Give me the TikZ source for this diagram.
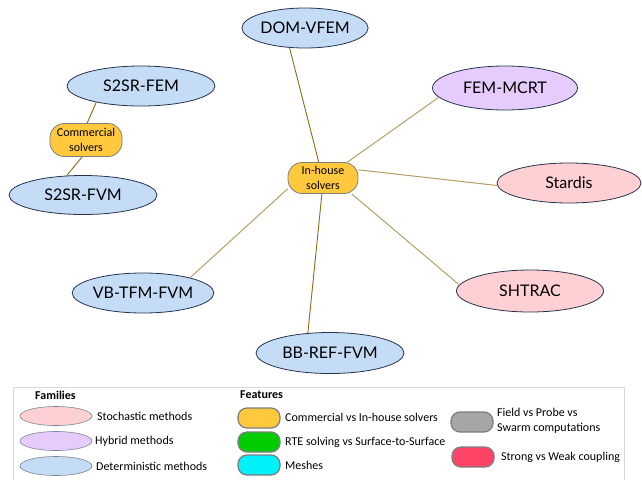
\documentclass[tikz,border=0pt]{standalone}
\usepackage{fontspec}
\setmainfont{Carlito}
\newfontfamily\bigf{Lato}
\usetikzlibrary{shapes.geometric}
\definecolor{bluef}{HTML}{C5DCF7}
\definecolor{pinkf}{HTML}{FFD0D3}
\definecolor{purpf}{HTML}{E6CCFC}
\definecolor{orangef}{HTML}{FFC83D}
\definecolor{edgeD}{HTML}{8C6A1A}
\definecolor{edgeL}{HTML}{B59F66}
\definecolor{bord}{HTML}{27344D}
\definecolor{featb}{HTML}{7F7F7F}
\definecolor{legb}{HTML}{D9D9D9}
\definecolor{greenf}{HTML}{00CC00}
\definecolor{cyanf}{HTML}{00F0F8}
\definecolor{grayf}{HTML}{A6A6A6}
\definecolor{redf}{HTML}{FF4468}
\begin{document}
\begin{tikzpicture}[x=1pt,y=-1pt,
  meth/.style={ellipse, draw=bord, line width=0.8pt, inner sep=0pt, font=\bigf\fontsize{16}{19}\selectfont},
  detm/.style={meth, fill=bluef},
  stoch/.style={meth, fill=pinkf},
  hybr/.style={meth, fill=purpf},
  solver/.style={rectangle, rounded corners=14pt, draw=featb, line width=0.8pt, fill=orangef, align=center, inner sep=0pt, font=\fontsize{12}{15}\selectfont},
  edgedark/.style={draw=edgeD, line width=0.9pt},
  edgelight/.style={draw=edgeL, line width=1pt},
  legell/.style={ellipse, draw=bord!60, line width=0.6pt, inner sep=0pt, minimum width=72, minimum height=19},
  legrect/.style={rectangle, rounded corners=9pt, draw=featb, line width=1.3pt, inner sep=0pt, minimum width=42, minimum height=20},
  legtxt/.style={anchor=west, inner sep=0pt, font=\fontsize{12}{15}\selectfont, align=left},
  legtitle/.style={anchor=west, inner sep=0pt, font=\bfseries\fontsize{12}{14}\selectfont}
]
\useasboundingbox (0,0) rectangle (642,480);
\fill[white] (0,0) rectangle (642,480);

% method nodes
\node[detm, minimum width=118, minimum height=40] (dom) at (305,28) {DOM-VFEM};
\node[hybr, minimum width=145, minimum height=44] (femmcrt) at (505,88) {FEM-MCRT};
\node[stoch, minimum width=144, minimum height=40] (stardis) at (569,183) {Stardis};
\node[stoch, minimum width=147, minimum height=42] (shtrac) at (530,291) {SHTRAC};
\node[detm, minimum width=148, minimum height=41] (bbref) at (330,353) {BB-REF-FVM};
\node[detm, minimum width=128, minimum height=40] (vbtfm) at (143,293) {VB-TFM-FVM};
\node[detm, minimum width=148, minimum height=40] (s2srfem) at (141,86) {S2SR-FEM};
\node[detm, minimum width=148, minimum height=39] (s2srfvm) at (83,195) {S2SR-FVM};

% solver nodes
\node[solver, minimum width=72, minimum height=33] (comm) at (86,140) {Commercial\\solvers};
\node[solver, minimum width=70, minimum height=31] (inhouse) at (323,178) {In-house\\solvers};

% connectors
\draw[edgedark] (dom.232) -- (inhouse.105);
\draw[edgelight] (femmcrt.188) -- (inhouse.33);
\draw[edgelight] (stardis.182) -- (inhouse.13);
\draw[edgelight] (shtrac.175) -- (inhouse.331);
\draw[edgedark] (bbref.138) -- (inhouse.266);
\draw[edgelight] (vbtfm.18) -- (inhouse.197);
\draw[edgedark] (s2srfem.200) -- (comm.86);
\draw[edgedark] (comm.257) -- (s2srfvm.130);

% legend
\draw[legb, line width=0.8pt] (13,480) -- (13,387) -- (624,387) -- (624,480);
\node[legtitle] (famt) at (35,395) {Families};
\node[legell, fill=pinkf] (lgs) at (56,416) {};
\node[legell, fill=purpf] (lgh) at (56,441) {};
\node[legell, fill=bluef] (lgd) at (56,466) {};
\node[legtxt] (lgst) at (97,416) {Stochastic methods};
\node[legtxt] (lght) at (95,441) {Hybrid methods};
\node[legtxt] (lgdt) at (96,466) {Deterministic methods};

\node[legtitle] (feat) at (240,395) {Features};
\node[legrect, fill=orangef] (lfo) at (259,418) {};
\node[legrect, fill=greenf] (lfg) at (259,442) {};
\node[legrect, fill=cyanf] (lfc) at (259,465) {};
\node[legtxt] (lfot) at (285,417) {Commercial vs In-house solvers};
\node[legtxt] (lfgt) at (285,442) {RTE solving vs Surface-to-Surface};
\node[legtxt] (lfct) at (285,465) {Meshes};

\node[legrect, fill=grayf] (lfa) at (472,422) {};
\node[legrect, fill=redf] (lfr) at (473,457) {};
\node[legtxt] (lfat) at (497,421) {Field vs Probe vs\\Swarm computations};
\node[legtxt] (lfrt) at (501,457) {Strong vs Weak coupling};
\end{tikzpicture}
\end{document}
